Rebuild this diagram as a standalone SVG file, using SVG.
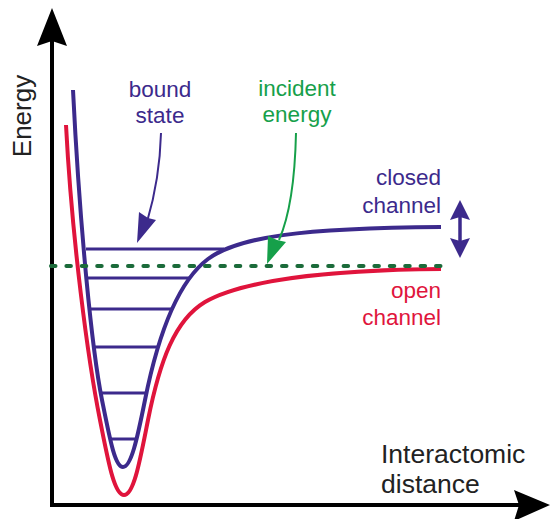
<svg xmlns="http://www.w3.org/2000/svg" width="551" height="519" viewBox="0 0 551 519">
<style>
text{font-family:"Liberation Sans",Arial,sans-serif}
.ax{stroke:#000;stroke-width:4;fill:none}
.axh{fill:#000}
.pur{stroke:#3c2a8c;fill:none}
.red{stroke:#e0143c;fill:none}
.pt{fill:#3c2a8c}
.gt{fill:#16a04a}
.rt{fill:#e0143c}
</style>
<rect width="551" height="519" fill="#fff"/>
<g id="axes">
<line class="ax" x1="52" y1="40" x2="52" y2="507"/>
<line class="ax" x1="50" y1="505" x2="520" y2="505"/>
<polygon class="axh" points="52,8 67,46 52,41 37,46"/>
<polygon class="axh" points="550,505 514,490 519,505 514,521"/>
<text x="0" y="0" font-size="26" fill="#222" text-anchor="middle" transform="translate(31,116) rotate(-90)">Energy</text>
<text x="381" y="463" font-size="26.5" fill="#222">Interactomic</text>
<text x="381" y="493" font-size="26.5" fill="#222">distance</text>
</g>
<g id="open-channel">
<path class="red" stroke-width="4" d="M66,125 C72,240 88,360 100,420 C108,460 114,495 124,495 C134,495 140,460 148,420 C160,360 175,320 205,302 C240,282 320,270 441,269"/>
<text class="rt" x="441" y="298" font-size="22.5" text-anchor="end">open</text>
<text class="rt" x="441" y="325" font-size="22.5" text-anchor="end">channel</text>
</g>
<g id="closed-channel">
<path class="pur" stroke-width="4" d="M73,90 C80,230 92,350 102,400 C110,440 115,467 123,467 C131,467 137,440 145,400 C159,330 180,280 208,259 C238,237 300,228 441,227"/>
<text class="pt" x="441" y="185" font-size="22.5" text-anchor="end">closed</text>
<text class="pt" x="441" y="213" font-size="22.5" text-anchor="end">channel</text>
</g>
<g id="bound-levels" class="pur" stroke-width="3">
<line x1="86" y1="249" x2="224" y2="249"/>
<line x1="88" y1="278" x2="189" y2="278"/>
<line x1="91" y1="309" x2="173" y2="309"/>
<line x1="95" y1="347" x2="159" y2="347"/>
<line x1="101" y1="393" x2="147" y2="393"/>
<line x1="109" y1="439" x2="136" y2="439"/>
</g>
<g id="incident-line">
<line x1="51" y1="266" x2="442" y2="266" stroke="#1b6b3a" stroke-width="4" stroke-linecap="round" stroke-dasharray="4.5,10.9"/>
</g>
<g id="bound-state-label">
<text class="pt" x="160" y="97" font-size="22.5" text-anchor="middle">bound</text>
<text class="pt" x="160" y="123" font-size="22.5" text-anchor="middle">state</text>
</g>
<g id="incident-energy-label">
<text class="gt" x="297" y="96" font-size="22.5" text-anchor="middle">incident</text>
<text class="gt" x="297" y="122" font-size="22.5" text-anchor="middle">energy</text>
</g>
<g id="connectors">
<path d="M161,133 C160,170 155,195 147,222" stroke="#3c2a8c" stroke-width="2" fill="none"/>
<polygon class="pt" points="137,243 139,212 148,218 156,220"/>
<path d="M296,133 C295,180 290,215 279,240" stroke="#16a04a" stroke-width="2" fill="none"/>
<polygon class="gt" points="267,264 268,236 277,240 286,242"/>
<line x1="460" y1="215" x2="460" y2="243" stroke="#3c2a8c" stroke-width="3.5"/>
<polygon class="pt" points="460,200 470,220 460,217 450,220"/>
<polygon class="pt" points="460,258 470,238 460,241 450,238"/>
</g>
</svg>
